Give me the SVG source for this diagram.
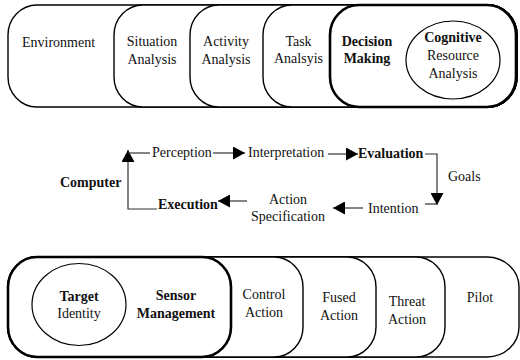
<svg xmlns="http://www.w3.org/2000/svg" width="520" height="360" viewBox="0 0 520 360">
  <style>
    .box { fill: #fff; stroke: #000; stroke-width: 1.4; }
    .box.strong { stroke-width: 2.6; }
    .oval { fill: #fff; stroke: #000; stroke-width: 1.2; }
    text { font-family: "Liberation Serif", "Times New Roman", Times, "Nimbus Roman", "Noto Serif", "DejaVu Serif", serif; font-size: 14px; fill: #111; }
    .b { font-weight: bold; }
    .m { text-anchor: middle; }
    .wire { fill: none; stroke: #333; stroke-width: 1.2; }
  </style>
  <defs>
    <marker id="head" markerUnits="userSpaceOnUse" markerWidth="13" markerHeight="13" refX="12" refY="6.5" orient="auto">
      <path d="M0,0 L12,6.5 L0,13 Z" fill="#000"/>
    </marker>
  </defs>

  <!-- upper band: each stage overlaps the previous one, rounded on its left -->
  <g id="environment">
    <rect class="box" x="8" y="5" width="509" height="102" rx="29" ry="30"/>
    <text x="22" y="47">Environment</text>
  </g>
  <g id="situation-analysis">
    <rect class="box" x="114" y="5" width="403" height="102" rx="29" ry="30"/>
    <text class="m" x="152" y="46">Situation</text>
    <text class="m" x="152" y="64">Analysis</text>
  </g>
  <g id="activity-analysis">
    <rect class="box" x="190" y="5" width="327" height="102" rx="29" ry="30"/>
    <text class="m" x="226" y="46">Activity</text>
    <text class="m" x="226" y="64">Analysis</text>
  </g>
  <g id="task-analysis">
    <rect class="box" x="263" y="5" width="254" height="102" rx="29" ry="30"/>
    <text class="m" x="298.5" y="46">Task</text>
    <text class="m" x="298.5" y="63">Analsyis</text>
  </g>
  <g id="decision-making">
    <rect class="box strong" x="330" y="5" width="186" height="102" rx="29" ry="30"/>
    <text class="m b" x="367" y="46">Decision</text>
    <text class="m b" x="367" y="63">Making</text>
  </g>
  <g id="cognitive-resource-analysis">
    <ellipse class="oval" cx="453" cy="60" rx="47" ry="39"/>
    <text class="m b" x="453" y="42">Cognitive</text>
    <text class="m" x="453" y="59.5">Resource</text>
    <text class="m" x="453" y="77.5">Analysis</text>
  </g>

  <!-- lower band: each stage overlaps the next one, rounded on its right -->
  <g id="pilot">
    <rect class="box" x="8" y="257" width="511" height="100" rx="32" ry="30"/>
    <text class="m" x="480" y="302">Pilot</text>
  </g>
  <g id="threat-action">
    <rect class="box" x="8" y="257" width="437" height="100" rx="29" ry="30"/>
    <text class="m" x="407" y="305.5">Threat</text>
    <text class="m" x="407" y="323.5">Action</text>
  </g>
  <g id="fused-action">
    <rect class="box" x="8" y="257" width="368" height="100" rx="29" ry="30"/>
    <text class="m" x="339" y="302">Fused</text>
    <text class="m" x="339" y="320">Action</text>
  </g>
  <g id="control-action">
    <rect class="box" x="8" y="257" width="295" height="100" rx="29" ry="30"/>
    <text class="m" x="264" y="298.5">Control</text>
    <text class="m" x="264" y="316.5">Action</text>
  </g>
  <g id="sensor-management">
    <rect class="box strong" x="8" y="257" width="223" height="100" rx="29" ry="30"/>
    <text class="m b" x="176" y="300">Sensor</text>
    <text class="m b" x="176" y="318">Management</text>
  </g>
  <g id="target-identity">
    <ellipse class="oval" cx="79" cy="304.5" rx="47" ry="41"/>
    <text class="m b" x="79" y="301">Target</text>
    <text class="m" x="79" y="318">Identity</text>
  </g>

  <!-- action cycle labels -->
  <g id="computer"><text class="b" x="60" y="187">Computer</text></g>
  <g id="perception"><text x="152" y="157">Perception</text></g>
  <g id="interpretation"><text x="248" y="157">Interpretation</text></g>
  <g id="evaluation"><text class="b" x="358" y="158">Evaluation</text></g>
  <g id="goals"><text x="448" y="181">Goals</text></g>
  <g id="intention"><text x="368" y="213">Intention</text></g>
  <g id="action-specification">
    <text class="m" x="288" y="204">Action</text>
    <text class="m" x="288" y="221">Specification</text>
  </g>
  <g id="execution"><text class="b" x="158" y="209">Execution</text></g>

  <!-- cycle connectors -->
  <g id="connectors">
    <path class="wire" d="M157,209 H128 V150" marker-end="url(#head)"/>
    <path class="wire" d="M128,153 H150"/>
    <path class="wire" d="M213,153 H245" marker-end="url(#head)"/>
    <path class="wire" d="M328,154 H358" marker-end="url(#head)"/>
    <path class="wire" d="M425,154 H437 V205" marker-end="url(#head)"/>
    <path class="wire" d="M425,204 H437"/>
    <path class="wire" d="M363,208 H333" marker-end="url(#head)"/>
    <path class="wire" d="M247,201 H218" marker-end="url(#head)"/>
  </g>
</svg>
